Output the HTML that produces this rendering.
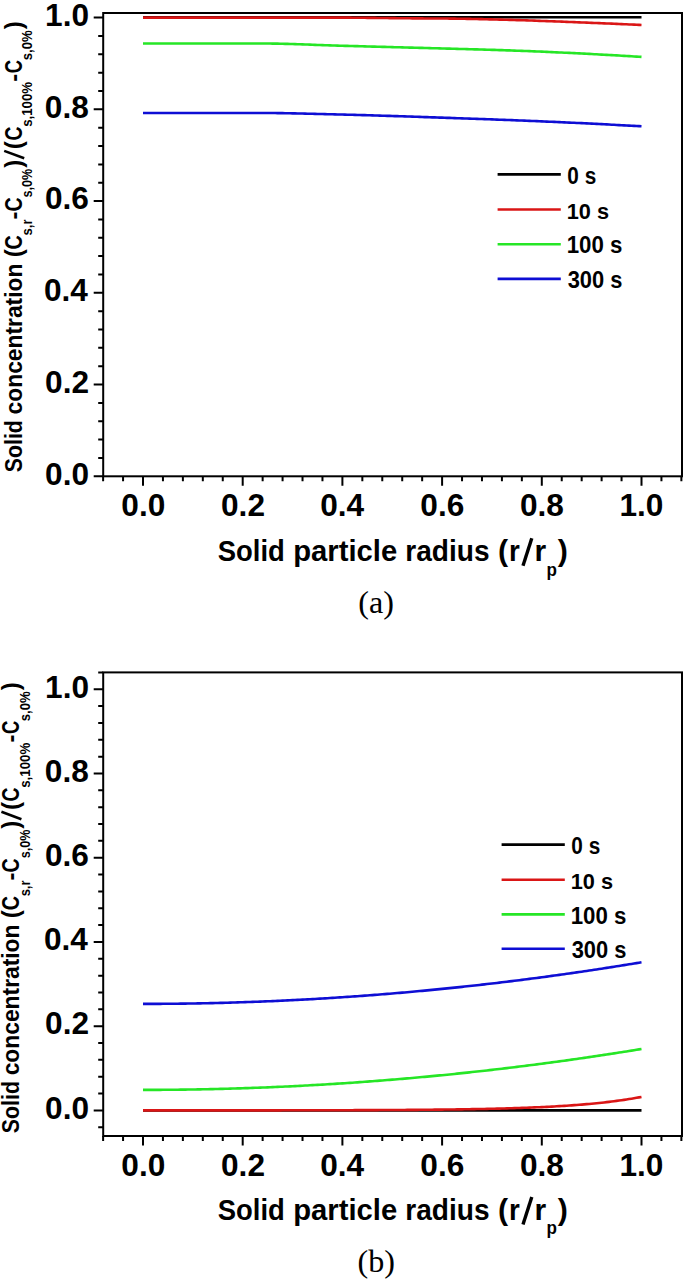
<!DOCTYPE html>
<html><head><meta charset="utf-8"><style>
html,body{margin:0;padding:0;background:#fff;}
svg{display:block;}
</style></head><body>
<svg width="683" height="1280" viewBox="0 0 683 1280">
<rect width="683" height="1280" fill="#fff"/>
<polyline points="143.00,17.20 145.49,17.20 147.99,17.20 150.48,17.20 152.97,17.20 155.46,17.20 157.96,17.20 160.45,17.20 162.94,17.20 165.43,17.20 167.93,17.20 170.42,17.20 172.91,17.20 175.40,17.20 177.90,17.20 180.39,17.20 182.88,17.20 185.37,17.20 187.87,17.20 190.36,17.20 192.85,17.20 195.34,17.20 197.84,17.20 200.33,17.20 202.82,17.20 205.31,17.20 207.81,17.20 210.30,17.20 212.79,17.20 215.28,17.20 217.77,17.20 220.27,17.20 222.76,17.20 225.25,17.20 227.75,17.20 230.24,17.20 232.73,17.20 235.22,17.20 237.72,17.20 240.21,17.20 242.70,17.20 245.19,17.20 247.69,17.20 250.18,17.20 252.67,17.20 255.16,17.20 257.65,17.20 260.15,17.20 262.64,17.20 265.13,17.20 267.62,17.20 270.12,17.20 272.61,17.20 275.10,17.20 277.60,17.20 280.09,17.20 282.58,17.20 285.07,17.20 287.56,17.20 290.06,17.20 292.55,17.20 295.04,17.20 297.53,17.20 300.03,17.20 302.52,17.20 305.01,17.20 307.50,17.20 310.00,17.20 312.49,17.20 314.98,17.20 317.48,17.20 319.97,17.20 322.46,17.20 324.95,17.20 327.44,17.20 329.94,17.20 332.43,17.20 334.92,17.20 337.42,17.20 339.91,17.20 342.40,17.20 344.89,17.20 347.38,17.20 349.88,17.20 352.37,17.20 354.86,17.20 357.36,17.20 359.85,17.20 362.34,17.20 364.83,17.20 367.33,17.20 369.82,17.20 372.31,17.20 374.80,17.20 377.30,17.20 379.79,17.20 382.28,17.20 384.77,17.20 387.26,17.20 389.76,17.20 392.25,17.20 394.74,17.20 397.24,17.20 399.73,17.20 402.22,17.20 404.71,17.20 407.21,17.20 409.70,17.20 412.19,17.20 414.68,17.20 417.18,17.20 419.67,17.20 422.16,17.20 424.65,17.20 427.15,17.20 429.64,17.20 432.13,17.20 434.62,17.20 437.12,17.20 439.61,17.20 442.10,17.20 444.59,17.20 447.08,17.20 449.58,17.20 452.07,17.20 454.56,17.20 457.06,17.20 459.55,17.20 462.04,17.20 464.53,17.20 467.03,17.20 469.52,17.20 472.01,17.20 474.50,17.20 477.00,17.20 479.49,17.20 481.98,17.20 484.47,17.20 486.97,17.20 489.46,17.20 491.95,17.20 494.44,17.20 496.94,17.20 499.43,17.20 501.92,17.20 504.41,17.20 506.90,17.20 509.40,17.20 511.89,17.20 514.38,17.20 516.88,17.20 519.37,17.20 521.86,17.20 524.35,17.20 526.85,17.20 529.34,17.20 531.83,17.20 534.32,17.20 536.82,17.20 539.31,17.20 541.80,17.20 544.29,17.20 546.79,17.20 549.28,17.20 551.77,17.20 554.26,17.20 556.76,17.20 559.25,17.20 561.74,17.20 564.23,17.20 566.72,17.20 569.22,17.20 571.71,17.20 574.20,17.20 576.69,17.20 579.19,17.20 581.68,17.20 584.17,17.20 586.66,17.20 589.16,17.20 591.65,17.20 594.14,17.20 596.63,17.20 599.13,17.20 601.62,17.20 604.11,17.20 606.61,17.20 609.10,17.20 611.59,17.20 614.08,17.20 616.58,17.20 619.07,17.20 621.56,17.20 624.05,17.20 626.54,17.20 629.04,17.20 631.53,17.20 634.02,17.20 636.51,17.20 639.01,17.20 641.50,17.20" fill="none" stroke="#000000" stroke-width="2.6" stroke-linejoin="round"/>
<polyline points="143.00,17.60 145.49,17.60 147.99,17.60 150.48,17.60 152.97,17.60 155.46,17.60 157.96,17.60 160.45,17.60 162.94,17.60 165.43,17.60 167.93,17.60 170.42,17.60 172.91,17.60 175.40,17.60 177.90,17.60 180.39,17.60 182.88,17.60 185.37,17.60 187.87,17.60 190.36,17.60 192.85,17.60 195.34,17.60 197.84,17.60 200.33,17.60 202.82,17.60 205.31,17.60 207.81,17.60 210.30,17.60 212.79,17.60 215.28,17.60 217.77,17.60 220.27,17.60 222.76,17.60 225.25,17.60 227.75,17.60 230.24,17.60 232.73,17.60 235.22,17.60 237.72,17.60 240.21,17.60 242.70,17.60 245.19,17.60 247.69,17.60 250.18,17.60 252.67,17.60 255.16,17.60 257.65,17.60 260.15,17.60 262.64,17.60 265.13,17.60 267.62,17.60 270.12,17.60 272.61,17.60 275.10,17.60 277.60,17.60 280.09,17.60 282.58,17.60 285.07,17.60 287.56,17.60 290.06,17.60 292.55,17.60 295.04,17.60 297.53,17.60 300.03,17.60 302.52,17.60 305.01,17.60 307.50,17.60 310.00,17.60 312.49,17.60 314.98,17.60 317.48,17.60 319.97,17.60 322.46,17.60 324.95,17.60 327.44,17.60 329.94,17.60 332.43,17.60 334.92,17.61 337.42,17.61 339.91,17.62 342.40,17.63 344.89,17.64 347.38,17.66 349.88,17.67 352.37,17.69 354.86,17.71 357.36,17.73 359.85,17.76 362.34,17.78 364.83,17.81 367.33,17.83 369.82,17.86 372.31,17.89 374.80,17.91 377.30,17.94 379.79,17.97 382.28,18.00 384.77,18.03 387.26,18.06 389.76,18.09 392.25,18.12 394.74,18.15 397.24,18.18 399.73,18.21 402.22,18.23 404.71,18.26 407.21,18.29 409.70,18.31 412.19,18.33 414.68,18.36 417.18,18.38 419.67,18.40 422.16,18.42 424.65,18.43 427.15,18.45 429.64,18.46 432.13,18.48 434.62,18.49 437.12,18.50 439.61,18.52 442.10,18.54 444.59,18.55 447.08,18.57 449.58,18.60 452.07,18.62 454.56,18.65 457.06,18.68 459.55,18.72 462.04,18.76 464.53,18.80 467.03,18.85 469.52,18.89 472.01,18.94 474.50,18.99 477.00,19.05 479.49,19.10 481.98,19.16 484.47,19.22 486.97,19.28 489.46,19.34 491.95,19.40 494.44,19.46 496.94,19.52 499.43,19.59 501.92,19.65 504.41,19.71 506.90,19.78 509.40,19.85 511.89,19.92 514.38,20.00 516.88,20.08 519.37,20.16 521.86,20.24 524.35,20.32 526.85,20.40 529.34,20.49 531.83,20.57 534.32,20.66 536.82,20.75 539.31,20.84 541.80,20.93 544.29,21.02 546.79,21.11 549.28,21.20 551.77,21.30 554.26,21.39 556.76,21.48 559.25,21.57 561.74,21.66 564.23,21.76 566.72,21.85 569.22,21.94 571.71,22.04 574.20,22.14 576.69,22.23 579.19,22.33 581.68,22.43 584.17,22.53 586.66,22.63 589.16,22.73 591.65,22.83 594.14,22.93 596.63,23.03 599.13,23.13 601.62,23.24 604.11,23.34 606.61,23.45 609.10,23.55 611.59,23.66 614.08,23.77 616.58,23.88 619.07,23.99 621.56,24.10 624.05,24.21 626.54,24.32 629.04,24.43 631.53,24.54 634.02,24.66 636.51,24.77 639.01,24.88 641.50,25.00" fill="none" stroke="#da1616" stroke-width="2.6" stroke-linejoin="round"/>
<polyline points="143.00,43.50 145.49,43.50 147.99,43.50 150.48,43.50 152.97,43.50 155.46,43.50 157.96,43.50 160.45,43.50 162.94,43.50 165.43,43.50 167.93,43.50 170.42,43.50 172.91,43.50 175.40,43.50 177.90,43.50 180.39,43.50 182.88,43.50 185.37,43.50 187.87,43.50 190.36,43.50 192.85,43.50 195.34,43.50 197.84,43.50 200.33,43.50 202.82,43.50 205.31,43.50 207.81,43.50 210.30,43.50 212.79,43.50 215.28,43.50 217.77,43.50 220.27,43.50 222.76,43.50 225.25,43.50 227.75,43.50 230.24,43.50 232.73,43.50 235.22,43.50 237.72,43.50 240.21,43.50 242.70,43.50 245.19,43.50 247.69,43.50 250.18,43.50 252.67,43.50 255.16,43.50 257.65,43.50 260.15,43.50 262.64,43.50 265.13,43.51 267.62,43.52 270.12,43.55 272.61,43.58 275.10,43.61 277.60,43.66 280.09,43.71 282.58,43.77 285.07,43.83 287.56,43.90 290.06,43.97 292.55,44.05 295.04,44.13 297.53,44.21 300.03,44.30 302.52,44.38 305.01,44.48 307.50,44.57 310.00,44.66 312.49,44.75 314.98,44.85 317.48,44.94 319.97,45.03 322.46,45.13 324.95,45.22 327.44,45.30 329.94,45.39 332.43,45.47 334.92,45.55 337.42,45.63 339.91,45.70 342.40,45.77 344.89,45.83 347.38,45.90 349.88,45.97 352.37,46.04 354.86,46.11 357.36,46.17 359.85,46.24 362.34,46.31 364.83,46.38 367.33,46.44 369.82,46.51 372.31,46.58 374.80,46.64 377.30,46.71 379.79,46.78 382.28,46.84 384.77,46.91 387.26,46.98 389.76,47.04 392.25,47.11 394.74,47.18 397.24,47.24 399.73,47.31 402.22,47.38 404.71,47.44 407.21,47.51 409.70,47.58 412.19,47.64 414.68,47.71 417.18,47.78 419.67,47.84 422.16,47.91 424.65,47.98 427.15,48.05 429.64,48.11 432.13,48.18 434.62,48.25 437.12,48.32 439.61,48.39 442.10,48.46 444.59,48.53 447.08,48.59 449.58,48.66 452.07,48.73 454.56,48.80 457.06,48.86 459.55,48.93 462.04,49.00 464.53,49.06 467.03,49.13 469.52,49.20 472.01,49.27 474.50,49.34 477.00,49.41 479.49,49.48 481.98,49.55 484.47,49.62 486.97,49.70 489.46,49.77 491.95,49.85 494.44,49.92 496.94,50.00 499.43,50.08 501.92,50.16 504.41,50.25 506.90,50.33 509.40,50.42 511.89,50.51 514.38,50.60 516.88,50.69 519.37,50.78 521.86,50.88 524.35,50.97 526.85,51.07 529.34,51.17 531.83,51.27 534.32,51.37 536.82,51.47 539.31,51.57 541.80,51.67 544.29,51.78 546.79,51.89 549.28,51.99 551.77,52.10 554.26,52.22 556.76,52.33 559.25,52.44 561.74,52.56 564.23,52.68 566.72,52.80 569.22,52.92 571.71,53.04 574.20,53.16 576.69,53.28 579.19,53.41 581.68,53.54 584.17,53.66 586.66,53.79 589.16,53.92 591.65,54.05 594.14,54.18 596.63,54.31 599.13,54.45 601.62,54.58 604.11,54.72 606.61,54.86 609.10,54.99 611.59,55.13 614.08,55.27 616.58,55.42 619.07,55.56 621.56,55.70 624.05,55.85 626.54,55.99 629.04,56.14 631.53,56.29 634.02,56.44 636.51,56.59 639.01,56.75 641.50,56.90" fill="none" stroke="#26e626" stroke-width="2.6" stroke-linejoin="round"/>
<polyline points="143.00,113.00 145.49,113.00 147.99,113.00 150.48,113.00 152.97,113.00 155.46,113.00 157.96,113.00 160.45,113.00 162.94,113.00 165.43,113.00 167.93,113.00 170.42,113.00 172.91,113.00 175.40,113.00 177.90,113.00 180.39,113.00 182.88,113.00 185.37,113.00 187.87,113.00 190.36,113.00 192.85,113.00 195.34,113.00 197.84,113.00 200.33,113.00 202.82,113.00 205.31,113.00 207.81,113.00 210.30,113.00 212.79,113.00 215.28,113.00 217.77,113.00 220.27,113.00 222.76,113.00 225.25,113.00 227.75,113.00 230.24,113.00 232.73,113.00 235.22,113.00 237.72,113.00 240.21,113.00 242.70,113.00 245.19,113.00 247.69,113.00 250.18,113.00 252.67,113.00 255.16,113.00 257.65,113.00 260.15,113.00 262.64,113.00 265.13,113.00 267.62,113.01 270.12,113.03 272.61,113.05 275.10,113.07 277.60,113.10 280.09,113.13 282.58,113.16 285.07,113.20 287.56,113.25 290.06,113.29 292.55,113.34 295.04,113.39 297.53,113.44 300.03,113.50 302.52,113.56 305.01,113.62 307.50,113.68 310.00,113.74 312.49,113.80 314.98,113.86 317.48,113.93 319.97,113.99 322.46,114.06 324.95,114.12 327.44,114.19 329.94,114.25 332.43,114.32 334.92,114.38 337.42,114.44 339.91,114.50 342.40,114.56 344.89,114.62 347.38,114.68 349.88,114.74 352.37,114.81 354.86,114.87 357.36,114.94 359.85,115.01 362.34,115.08 364.83,115.15 367.33,115.22 369.82,115.30 372.31,115.37 374.80,115.45 377.30,115.52 379.79,115.60 382.28,115.68 384.77,115.75 387.26,115.83 389.76,115.91 392.25,115.99 394.74,116.08 397.24,116.16 399.73,116.24 402.22,116.32 404.71,116.40 407.21,116.49 409.70,116.57 412.19,116.66 414.68,116.74 417.18,116.82 419.67,116.91 422.16,116.99 424.65,117.08 427.15,117.16 429.64,117.25 432.13,117.33 434.62,117.42 437.12,117.50 439.61,117.59 442.10,117.67 444.59,117.76 447.08,117.84 449.58,117.92 452.07,118.01 454.56,118.09 457.06,118.18 459.55,118.27 462.04,118.35 464.53,118.44 467.03,118.53 469.52,118.61 472.01,118.70 474.50,118.79 477.00,118.88 479.49,118.96 481.98,119.05 484.47,119.14 486.97,119.23 489.46,119.32 491.95,119.41 494.44,119.51 496.94,119.60 499.43,119.69 501.92,119.78 504.41,119.88 506.90,119.97 509.40,120.07 511.89,120.16 514.38,120.26 516.88,120.35 519.37,120.45 521.86,120.55 524.35,120.65 526.85,120.75 529.34,120.85 531.83,120.95 534.32,121.05 536.82,121.16 539.31,121.26 541.80,121.36 544.29,121.47 546.79,121.58 549.28,121.68 551.77,121.79 554.26,121.90 556.76,122.01 559.25,122.12 561.74,122.24 564.23,122.35 566.72,122.46 569.22,122.58 571.71,122.70 574.20,122.81 576.69,122.93 579.19,123.05 581.68,123.17 584.17,123.29 586.66,123.41 589.16,123.54 591.65,123.66 594.14,123.79 596.63,123.91 599.13,124.04 601.62,124.16 604.11,124.29 606.61,124.42 609.10,124.55 611.59,124.68 614.08,124.81 616.58,124.94 619.07,125.08 621.56,125.21 624.05,125.34 626.54,125.48 629.04,125.61 631.53,125.75 634.02,125.89 636.51,126.02 639.01,126.16 641.50,126.30" fill="none" stroke="#0e0ed4" stroke-width="2.6" stroke-linejoin="round"/>
<rect x="103.2" y="13.0" width="578.80" height="463.30" fill="none" stroke="#000" stroke-width="2"/>
<path d="M103.12 476.30v5.0 M123.06 476.30v5.0 M143.00 476.30v9.5 M162.94 476.30v5.0 M182.88 476.30v5.0 M202.82 476.30v5.0 M222.76 476.30v5.0 M242.70 476.30v9.5 M262.64 476.30v5.0 M282.58 476.30v5.0 M302.52 476.30v5.0 M322.46 476.30v5.0 M342.40 476.30v9.5 M362.34 476.30v5.0 M382.28 476.30v5.0 M402.22 476.30v5.0 M422.16 476.30v5.0 M442.10 476.30v9.5 M462.04 476.30v5.0 M481.98 476.30v5.0 M501.92 476.30v5.0 M521.86 476.30v5.0 M541.80 476.30v9.5 M561.74 476.30v5.0 M581.68 476.30v5.0 M601.62 476.30v5.0 M621.56 476.30v5.0 M641.50 476.30v9.5 M661.44 476.30v5.0 M681.38 476.30v5.0 M103.20 476.30h-9.5 M103.20 457.95h-5.0 M103.20 439.60h-5.0 M103.20 421.26h-5.0 M103.20 402.91h-5.0 M103.20 384.56h-9.5 M103.20 366.21h-5.0 M103.20 347.86h-5.0 M103.20 329.52h-5.0 M103.20 311.17h-5.0 M103.20 292.82h-9.5 M103.20 274.47h-5.0 M103.20 256.12h-5.0 M103.20 237.78h-5.0 M103.20 219.43h-5.0 M103.20 201.08h-9.5 M103.20 182.73h-5.0 M103.20 164.38h-5.0 M103.20 146.04h-5.0 M103.20 127.69h-5.0 M103.20 109.34h-9.5 M103.20 90.99h-5.0 M103.20 72.64h-5.0 M103.20 54.30h-5.0 M103.20 35.95h-5.0 M103.20 17.60h-9.5" stroke="#000" stroke-width="2" fill="none"/>
<text transform="translate(45.11,484.60) scale(1.0200,1)" font-family='"Liberation Sans", sans-serif' font-weight="bold" font-size="31" fill="#000">0.0</text>
<text transform="translate(45.11,392.86) scale(1.0200,1)" font-family='"Liberation Sans", sans-serif' font-weight="bold" font-size="31" fill="#000">0.2</text>
<text transform="translate(44.01,301.12) scale(1.0200,1)" font-family='"Liberation Sans", sans-serif' font-weight="bold" font-size="31" fill="#000">0.4</text>
<text transform="translate(44.95,209.38) scale(1.0200,1)" font-family='"Liberation Sans", sans-serif' font-weight="bold" font-size="31" fill="#000">0.6</text>
<text transform="translate(44.80,117.64) scale(1.0200,1)" font-family='"Liberation Sans", sans-serif' font-weight="bold" font-size="31" fill="#000">0.8</text>
<text transform="translate(45.11,25.90) scale(1.0200,1)" font-family='"Liberation Sans", sans-serif' font-weight="bold" font-size="31" fill="#000">1.0</text>
<text transform="translate(121.32,516.20) scale(1.0200,1)" font-family='"Liberation Sans", sans-serif' font-weight="bold" font-size="31" fill="#000">0.0</text>
<text transform="translate(221.02,516.20) scale(1.0200,1)" font-family='"Liberation Sans", sans-serif' font-weight="bold" font-size="31" fill="#000">0.2</text>
<text transform="translate(320.17,516.20) scale(1.0200,1)" font-family='"Liberation Sans", sans-serif' font-weight="bold" font-size="31" fill="#000">0.4</text>
<text transform="translate(420.35,516.20) scale(1.0200,1)" font-family='"Liberation Sans", sans-serif' font-weight="bold" font-size="31" fill="#000">0.6</text>
<text transform="translate(519.97,516.20) scale(1.0200,1)" font-family='"Liberation Sans", sans-serif' font-weight="bold" font-size="31" fill="#000">0.8</text>
<text transform="translate(619.43,516.20) scale(1.0200,1)" font-family='"Liberation Sans", sans-serif' font-weight="bold" font-size="31" fill="#000">1.0</text>
<text transform="translate(217.78,560.90) scale(0.9058,1)" font-family='"Liberation Sans", sans-serif' font-weight="bold" font-size="30.3" fill="#000">Solid</text>
<text transform="translate(293.20,560.90) scale(0.9657,1)" font-family='"Liberation Sans", sans-serif' font-weight="bold" font-size="30.3" fill="#000">particle</text>
<text transform="translate(405.27,560.90) scale(0.9268,1)" font-family='"Liberation Sans", sans-serif' font-weight="bold" font-size="30.3" fill="#000">radius</text>
<text transform="translate(497.99,560.90) scale(1.0000,1)" font-family='"Liberation Sans", sans-serif' font-weight="bold" font-size="30.3" fill="#000">(</text>
<text transform="translate(509.00,560.90) scale(0.9156,1)" font-family='"Liberation Sans", sans-serif' font-weight="bold" font-size="30.3" fill="#000">r</text>
<line x1="523.0" y1="565.80" x2="531.8" y2="538.30" stroke="#000" stroke-width="3.4"/>
<text transform="translate(534.45,560.90) scale(0.9901,1)" font-family='"Liberation Sans", sans-serif' font-weight="bold" font-size="30.3" fill="#000">r</text>
<text transform="translate(546.49,575.50) scale(0.9731,1)" font-family='"Liberation Sans", sans-serif' font-weight="bold" font-size="17.5" fill="#000">p</text>
<text transform="translate(557.76,560.90) scale(1.0000,1)" font-family='"Liberation Sans", sans-serif' font-weight="bold" font-size="30.3" fill="#000">)</text>
<text transform="translate(358.35,613.30) scale(1.0373,1)" font-family='"Liberation Serif", serif' font-weight="normal" font-size="31" fill="#000">(a)</text>
<line x1="497.6" y1="174.4" x2="560.8" y2="174.4" stroke="#000000" stroke-width="2.6"/>
<text transform="translate(567.37,183.60) scale(0.9028,1)" font-family='"Liberation Sans", sans-serif' font-weight="bold" font-size="23.0" fill="#000">0 s</text>
<line x1="497.6" y1="209.5" x2="560.8" y2="209.5" stroke="#da1616" stroke-width="2.6"/>
<text transform="translate(566.79,218.70) scale(0.9452,1)" font-family='"Liberation Sans", sans-serif' font-weight="bold" font-size="23.0" fill="#000">10 s</text>
<line x1="497.6" y1="244.2" x2="560.8" y2="244.2" stroke="#26e626" stroke-width="2.6"/>
<text transform="translate(566.75,253.40) scale(0.9676,1)" font-family='"Liberation Sans", sans-serif' font-weight="bold" font-size="23.0" fill="#000">100 s</text>
<line x1="497.6" y1="278.9" x2="560.8" y2="278.9" stroke="#0e0ed4" stroke-width="2.6"/>
<text transform="translate(567.65,288.10) scale(0.9517,1)" font-family='"Liberation Sans", sans-serif' font-weight="bold" font-size="23.0" fill="#000">300 s</text>
<g transform="translate(21.6,471.9) rotate(-90)"><text transform="translate(-0.34,0.00) scale(0.8958,1)" font-family='"Liberation Sans", sans-serif' font-weight="bold" font-size="23.8" fill="#000">Solid</text><text transform="translate(57.49,0.00) scale(0.9591,1)" font-family='"Liberation Sans", sans-serif' font-weight="bold" font-size="23.8" fill="#000">concentration</text><text transform="translate(214.58,0.00) scale(1.0000,1)" font-family='"Liberation Sans", sans-serif' font-weight="bold" font-size="23.8" fill="#000">(</text><text transform="translate(222.51,0.00) scale(0.8339,1)" font-family='"Liberation Sans", sans-serif' font-weight="bold" font-size="23.8" fill="#000">C</text><text transform="translate(236.44,10.80) scale(0.8980,1)" font-family='"Liberation Sans", sans-serif' font-weight="bold" font-size="14.5" fill="#000">s,r</text><text transform="translate(252.41,0.00) scale(1.0000,1)" font-family='"Liberation Sans", sans-serif' font-weight="bold" font-size="23.8" fill="#000">-</text><text transform="translate(260.32,0.00) scale(0.8211,1)" font-family='"Liberation Sans", sans-serif' font-weight="bold" font-size="23.8" fill="#000">C</text><text transform="translate(274.46,10.80) scale(0.8698,1)" font-family='"Liberation Sans", sans-serif' font-weight="bold" font-size="14.5" fill="#000">s,0%</text><text transform="translate(304.05,0.00) scale(1.0000,1)" font-family='"Liberation Sans", sans-serif' font-weight="bold" font-size="23.8" fill="#000">)</text><line x1="313.6" y1="2.6" x2="321.0" y2="-17.4" stroke="#000" stroke-width="2.6"/><text transform="translate(322.68,0.00) scale(1.0000,1)" font-family='"Liberation Sans", sans-serif' font-weight="bold" font-size="23.8" fill="#000">(</text><text transform="translate(331.32,0.00) scale(0.8147,1)" font-family='"Liberation Sans", sans-serif' font-weight="bold" font-size="23.8" fill="#000">C</text><text transform="translate(345.04,10.80) scale(0.9161,1)" font-family='"Liberation Sans", sans-serif' font-weight="bold" font-size="14.5" fill="#000">s,100%</text><text transform="translate(390.21,0.00) scale(1.0000,1)" font-family='"Liberation Sans", sans-serif' font-weight="bold" font-size="23.8" fill="#000">-</text><text transform="translate(398.76,0.00) scale(0.7762,1)" font-family='"Liberation Sans", sans-serif' font-weight="bold" font-size="23.8" fill="#000">C</text><text transform="translate(411.64,10.80) scale(0.9009,1)" font-family='"Liberation Sans", sans-serif' font-weight="bold" font-size="14.5" fill="#000">s,0%</text><text transform="translate(442.55,0.00) scale(1.0000,1)" font-family='"Liberation Sans", sans-serif' font-weight="bold" font-size="23.8" fill="#000">)</text></g>
<polyline points="143.00,1110.40 145.49,1110.40 147.99,1110.40 150.48,1110.40 152.97,1110.40 155.46,1110.40 157.96,1110.40 160.45,1110.40 162.94,1110.40 165.43,1110.40 167.93,1110.40 170.42,1110.40 172.91,1110.40 175.40,1110.40 177.90,1110.40 180.39,1110.40 182.88,1110.40 185.37,1110.40 187.87,1110.40 190.36,1110.40 192.85,1110.40 195.34,1110.40 197.84,1110.40 200.33,1110.40 202.82,1110.40 205.31,1110.40 207.81,1110.40 210.30,1110.40 212.79,1110.40 215.28,1110.40 217.77,1110.40 220.27,1110.40 222.76,1110.40 225.25,1110.40 227.75,1110.40 230.24,1110.40 232.73,1110.40 235.22,1110.40 237.72,1110.40 240.21,1110.40 242.70,1110.40 245.19,1110.40 247.69,1110.40 250.18,1110.40 252.67,1110.40 255.16,1110.40 257.65,1110.40 260.15,1110.40 262.64,1110.40 265.13,1110.40 267.62,1110.40 270.12,1110.40 272.61,1110.40 275.10,1110.40 277.60,1110.40 280.09,1110.40 282.58,1110.40 285.07,1110.40 287.56,1110.40 290.06,1110.40 292.55,1110.40 295.04,1110.40 297.53,1110.40 300.03,1110.40 302.52,1110.40 305.01,1110.40 307.50,1110.40 310.00,1110.40 312.49,1110.40 314.98,1110.40 317.48,1110.40 319.97,1110.40 322.46,1110.40 324.95,1110.40 327.44,1110.40 329.94,1110.40 332.43,1110.40 334.92,1110.40 337.42,1110.40 339.91,1110.40 342.40,1110.40 344.89,1110.40 347.38,1110.40 349.88,1110.40 352.37,1110.40 354.86,1110.40 357.36,1110.40 359.85,1110.40 362.34,1110.40 364.83,1110.40 367.33,1110.40 369.82,1110.40 372.31,1110.40 374.80,1110.40 377.30,1110.40 379.79,1110.40 382.28,1110.40 384.77,1110.40 387.26,1110.40 389.76,1110.40 392.25,1110.40 394.74,1110.40 397.24,1110.40 399.73,1110.40 402.22,1110.40 404.71,1110.40 407.21,1110.40 409.70,1110.40 412.19,1110.40 414.68,1110.40 417.18,1110.40 419.67,1110.40 422.16,1110.40 424.65,1110.40 427.15,1110.40 429.64,1110.40 432.13,1110.40 434.62,1110.40 437.12,1110.40 439.61,1110.40 442.10,1110.40 444.59,1110.40 447.08,1110.40 449.58,1110.40 452.07,1110.40 454.56,1110.40 457.06,1110.40 459.55,1110.40 462.04,1110.40 464.53,1110.40 467.03,1110.40 469.52,1110.40 472.01,1110.40 474.50,1110.40 477.00,1110.40 479.49,1110.40 481.98,1110.40 484.47,1110.40 486.97,1110.40 489.46,1110.40 491.95,1110.40 494.44,1110.40 496.94,1110.40 499.43,1110.40 501.92,1110.40 504.41,1110.40 506.90,1110.40 509.40,1110.40 511.89,1110.40 514.38,1110.40 516.88,1110.40 519.37,1110.40 521.86,1110.40 524.35,1110.40 526.85,1110.40 529.34,1110.40 531.83,1110.40 534.32,1110.40 536.82,1110.40 539.31,1110.40 541.80,1110.40 544.29,1110.40 546.79,1110.40 549.28,1110.40 551.77,1110.40 554.26,1110.40 556.76,1110.40 559.25,1110.40 561.74,1110.40 564.23,1110.40 566.72,1110.40 569.22,1110.40 571.71,1110.40 574.20,1110.40 576.69,1110.40 579.19,1110.40 581.68,1110.40 584.17,1110.40 586.66,1110.40 589.16,1110.40 591.65,1110.40 594.14,1110.40 596.63,1110.40 599.13,1110.40 601.62,1110.40 604.11,1110.40 606.61,1110.40 609.10,1110.40 611.59,1110.40 614.08,1110.40 616.58,1110.40 619.07,1110.40 621.56,1110.40 624.05,1110.40 626.54,1110.40 629.04,1110.40 631.53,1110.40 634.02,1110.40 636.51,1110.40 639.01,1110.40 641.50,1110.40" fill="none" stroke="#000000" stroke-width="2.6" stroke-linejoin="round"/>
<polyline points="143.00,1110.40 145.49,1110.40 147.99,1110.40 150.48,1110.40 152.97,1110.40 155.46,1110.40 157.96,1110.40 160.45,1110.40 162.94,1110.40 165.43,1110.40 167.93,1110.39 170.42,1110.39 172.91,1110.39 175.40,1110.39 177.90,1110.39 180.39,1110.39 182.88,1110.39 185.37,1110.39 187.87,1110.39 190.36,1110.39 192.85,1110.39 195.34,1110.39 197.84,1110.39 200.33,1110.38 202.82,1110.38 205.31,1110.38 207.81,1110.38 210.30,1110.38 212.79,1110.38 215.28,1110.38 217.77,1110.38 220.27,1110.38 222.76,1110.37 225.25,1110.37 227.75,1110.37 230.24,1110.37 232.73,1110.37 235.22,1110.37 237.72,1110.37 240.21,1110.36 242.70,1110.36 245.19,1110.36 247.69,1110.36 250.18,1110.36 252.67,1110.35 255.16,1110.35 257.65,1110.35 260.15,1110.35 262.64,1110.35 265.13,1110.34 267.62,1110.34 270.12,1110.34 272.61,1110.34 275.10,1110.33 277.60,1110.33 280.09,1110.33 282.58,1110.32 285.07,1110.32 287.56,1110.32 290.06,1110.32 292.55,1110.31 295.04,1110.31 297.53,1110.30 300.03,1110.30 302.52,1110.30 305.01,1110.29 307.50,1110.29 310.00,1110.28 312.49,1110.28 314.98,1110.27 317.48,1110.27 319.97,1110.26 322.46,1110.26 324.95,1110.25 327.44,1110.25 329.94,1110.24 332.43,1110.24 334.92,1110.23 337.42,1110.22 339.91,1110.22 342.40,1110.21 344.89,1110.20 347.38,1110.20 349.88,1110.19 352.37,1110.18 354.86,1110.17 357.36,1110.16 359.85,1110.15 362.34,1110.14 364.83,1110.14 367.33,1110.13 369.82,1110.12 372.31,1110.10 374.80,1110.09 377.30,1110.08 379.79,1110.07 382.28,1110.06 384.77,1110.05 387.26,1110.03 389.76,1110.02 392.25,1110.00 394.74,1109.99 397.24,1109.98 399.73,1109.96 402.22,1109.94 404.71,1109.93 407.21,1109.91 409.70,1109.89 412.19,1109.87 414.68,1109.85 417.18,1109.83 419.67,1109.81 422.16,1109.79 424.65,1109.77 427.15,1109.75 429.64,1109.72 432.13,1109.70 434.62,1109.67 437.12,1109.65 439.61,1109.62 442.10,1109.59 444.59,1109.56 447.08,1109.53 449.58,1109.50 452.07,1109.47 454.56,1109.44 457.06,1109.40 459.55,1109.36 462.04,1109.33 464.53,1109.29 467.03,1109.25 469.52,1109.21 472.01,1109.16 474.50,1109.12 477.00,1109.07 479.49,1109.03 481.98,1108.98 484.47,1108.93 486.97,1108.87 489.46,1108.82 491.95,1108.76 494.44,1108.70 496.94,1108.64 499.43,1108.58 501.92,1108.51 504.41,1108.44 506.90,1108.37 509.40,1108.30 511.89,1108.23 514.38,1108.15 516.88,1108.07 519.37,1107.98 521.86,1107.90 524.35,1107.81 526.85,1107.72 529.34,1107.62 531.83,1107.52 534.32,1107.42 536.82,1107.31 539.31,1107.20 541.80,1107.09 544.29,1106.97 546.79,1106.84 549.28,1106.72 551.77,1106.59 554.26,1106.45 556.76,1106.31 559.25,1106.16 561.74,1106.01 564.23,1105.85 566.72,1105.69 569.22,1105.52 571.71,1105.35 574.20,1105.17 576.69,1104.98 579.19,1104.79 581.68,1104.59 584.17,1104.38 586.66,1104.17 589.16,1103.94 591.65,1103.71 594.14,1103.48 596.63,1103.23 599.13,1102.97 601.62,1102.71 604.11,1102.43 606.61,1102.15 609.10,1101.85 611.59,1101.55 614.08,1101.23 616.58,1100.91 619.07,1100.57 621.56,1100.22 624.05,1099.85 626.54,1099.48 629.04,1099.09 631.53,1098.69 634.02,1098.27 636.51,1097.84 639.01,1097.39 641.50,1096.92" fill="none" stroke="#da1616" stroke-width="2.6" stroke-linejoin="round"/>
<polyline points="143.00,1089.89 145.49,1089.89 147.99,1089.89 150.48,1089.88 152.97,1089.87 155.46,1089.86 157.96,1089.85 160.45,1089.84 162.94,1089.82 165.43,1089.81 167.93,1089.79 170.42,1089.77 172.91,1089.74 175.40,1089.72 177.90,1089.69 180.39,1089.66 182.88,1089.63 185.37,1089.59 187.87,1089.56 190.36,1089.52 192.85,1089.48 195.34,1089.44 197.84,1089.40 200.33,1089.35 202.82,1089.30 205.31,1089.25 207.81,1089.20 210.30,1089.14 212.79,1089.09 215.28,1089.03 217.77,1088.97 220.27,1088.91 222.76,1088.84 225.25,1088.78 227.75,1088.71 230.24,1088.64 232.73,1088.57 235.22,1088.49 237.72,1088.41 240.21,1088.34 242.70,1088.25 245.19,1088.17 247.69,1088.09 250.18,1088.00 252.67,1087.91 255.16,1087.82 257.65,1087.73 260.15,1087.63 262.64,1087.53 265.13,1087.44 267.62,1087.33 270.12,1087.23 272.61,1087.13 275.10,1087.02 277.60,1086.91 280.09,1086.80 282.58,1086.68 285.07,1086.57 287.56,1086.45 290.06,1086.33 292.55,1086.21 295.04,1086.09 297.53,1085.96 300.03,1085.83 302.52,1085.70 305.01,1085.57 307.50,1085.44 310.00,1085.30 312.49,1085.16 314.98,1085.02 317.48,1084.88 319.97,1084.74 322.46,1084.59 324.95,1084.44 327.44,1084.29 329.94,1084.14 332.43,1083.98 334.92,1083.83 337.42,1083.67 339.91,1083.51 342.40,1083.35 344.89,1083.18 347.38,1083.02 349.88,1082.85 352.37,1082.68 354.86,1082.50 357.36,1082.33 359.85,1082.15 362.34,1081.97 364.83,1081.79 367.33,1081.61 369.82,1081.42 372.31,1081.24 374.80,1081.05 377.30,1080.86 379.79,1080.66 382.28,1080.47 384.77,1080.27 387.26,1080.07 389.76,1079.87 392.25,1079.67 394.74,1079.46 397.24,1079.25 399.73,1079.04 402.22,1078.83 404.71,1078.62 407.21,1078.40 409.70,1078.19 412.19,1077.97 414.68,1077.74 417.18,1077.52 419.67,1077.29 422.16,1077.07 424.65,1076.84 427.15,1076.60 429.64,1076.37 432.13,1076.13 434.62,1075.90 437.12,1075.65 439.61,1075.41 442.10,1075.17 444.59,1074.92 447.08,1074.67 449.58,1074.42 452.07,1074.17 454.56,1073.92 457.06,1073.66 459.55,1073.40 462.04,1073.14 464.53,1072.88 467.03,1072.61 469.52,1072.35 472.01,1072.08 474.50,1071.81 477.00,1071.53 479.49,1071.26 481.98,1070.98 484.47,1070.70 486.97,1070.42 489.46,1070.14 491.95,1069.85 494.44,1069.56 496.94,1069.28 499.43,1068.98 501.92,1068.69 504.41,1068.40 506.90,1068.10 509.40,1067.80 511.89,1067.50 514.38,1067.19 516.88,1066.89 519.37,1066.58 521.86,1066.27 524.35,1065.96 526.85,1065.64 529.34,1065.33 531.83,1065.01 534.32,1064.69 536.82,1064.37 539.31,1064.04 541.80,1063.72 544.29,1063.39 546.79,1063.06 549.28,1062.73 551.77,1062.39 554.26,1062.06 556.76,1061.72 559.25,1061.38 561.74,1061.04 564.23,1060.69 566.72,1060.34 569.22,1060.00 571.71,1059.65 574.20,1059.29 576.69,1058.94 579.19,1058.58 581.68,1058.22 584.17,1057.86 586.66,1057.50 589.16,1057.13 591.65,1056.77 594.14,1056.40 596.63,1056.03 599.13,1055.65 601.62,1055.28 604.11,1054.90 606.61,1054.52 609.10,1054.14 611.59,1053.76 614.08,1053.37 616.58,1052.98 619.07,1052.59 621.56,1052.20 624.05,1051.81 626.54,1051.41 629.04,1051.02 631.53,1050.62 634.02,1050.21 636.51,1049.81 639.01,1049.40 641.50,1049.00" fill="none" stroke="#26e626" stroke-width="2.6" stroke-linejoin="round"/>
<polyline points="143.00,1003.89 145.49,1003.89 147.99,1003.89 150.48,1003.88 152.97,1003.87 155.46,1003.87 157.96,1003.85 160.45,1003.84 162.94,1003.82 165.43,1003.81 167.93,1003.79 170.42,1003.77 172.91,1003.74 175.40,1003.72 177.90,1003.69 180.39,1003.66 182.88,1003.62 185.37,1003.59 187.87,1003.55 190.36,1003.52 192.85,1003.48 195.34,1003.43 197.84,1003.39 200.33,1003.34 202.82,1003.29 205.31,1003.24 207.81,1003.19 210.30,1003.13 212.79,1003.08 215.28,1003.02 217.77,1002.95 220.27,1002.89 222.76,1002.83 225.25,1002.76 227.75,1002.69 230.24,1002.62 232.73,1002.54 235.22,1002.47 237.72,1002.39 240.21,1002.31 242.70,1002.23 245.19,1002.14 247.69,1002.06 250.18,1001.97 252.67,1001.88 255.16,1001.78 257.65,1001.69 260.15,1001.59 262.64,1001.49 265.13,1001.39 267.62,1001.29 270.12,1001.19 272.61,1001.08 275.10,1000.97 277.60,1000.86 280.09,1000.74 282.58,1000.63 285.07,1000.51 287.56,1000.39 290.06,1000.27 292.55,1000.15 295.04,1000.02 297.53,999.89 300.03,999.76 302.52,999.63 305.01,999.50 307.50,999.36 310.00,999.22 312.49,999.08 314.98,998.94 317.48,998.79 319.97,998.65 322.46,998.50 324.95,998.35 327.44,998.19 329.94,998.04 332.43,997.88 334.92,997.72 337.42,997.56 339.91,997.40 342.40,997.23 344.89,997.07 347.38,996.90 349.88,996.72 352.37,996.55 354.86,996.38 357.36,996.20 359.85,996.02 362.34,995.84 364.83,995.65 367.33,995.47 369.82,995.28 372.31,995.09 374.80,994.89 377.30,994.70 379.79,994.50 382.28,994.30 384.77,994.10 387.26,993.90 389.76,993.70 392.25,993.49 394.74,993.28 397.24,993.07 399.73,992.86 402.22,992.64 404.71,992.42 407.21,992.20 409.70,991.98 412.19,991.76 414.68,991.53 417.18,991.30 419.67,991.07 422.16,990.84 424.65,990.61 427.15,990.37 429.64,990.13 432.13,989.89 434.62,989.65 437.12,989.41 439.61,989.16 442.10,988.91 444.59,988.66 447.08,988.41 449.58,988.15 452.07,987.90 454.56,987.64 457.06,987.38 459.55,987.11 462.04,986.85 464.53,986.58 467.03,986.31 469.52,986.04 472.01,985.77 474.50,985.49 477.00,985.21 479.49,984.93 481.98,984.65 484.47,984.37 486.97,984.08 489.46,983.79 491.95,983.50 494.44,983.21 496.94,982.92 499.43,982.62 501.92,982.32 504.41,982.02 506.90,981.72 509.40,981.41 511.89,981.11 514.38,980.80 516.88,980.49 519.37,980.17 521.86,979.86 524.35,979.54 526.85,979.22 529.34,978.90 531.83,978.58 534.32,978.25 536.82,977.92 539.31,977.59 541.80,977.26 544.29,976.93 546.79,976.59 549.28,976.25 551.77,975.91 554.26,975.57 556.76,975.23 559.25,974.88 561.74,974.53 564.23,974.18 566.72,973.83 569.22,973.47 571.71,973.12 574.20,972.76 576.69,972.40 579.19,972.03 581.68,971.67 584.17,971.30 586.66,970.93 589.16,970.56 591.65,970.19 594.14,969.81 596.63,969.43 599.13,969.05 601.62,968.67 604.11,968.29 606.61,967.90 609.10,967.51 611.59,967.12 614.08,966.73 616.58,966.34 619.07,965.94 621.56,965.54 624.05,965.14 626.54,964.74 629.04,964.34 631.53,963.93 634.02,963.52 636.51,963.11 639.01,962.70 641.50,962.28" fill="none" stroke="#0e0ed4" stroke-width="2.6" stroke-linejoin="round"/>
<rect x="103.2" y="672.4" width="578.80" height="463.60" fill="none" stroke="#000" stroke-width="2"/>
<path d="M103.12 1136.00v5.0 M123.06 1136.00v5.0 M143.00 1136.00v9.5 M162.94 1136.00v5.0 M182.88 1136.00v5.0 M202.82 1136.00v5.0 M222.76 1136.00v5.0 M242.70 1136.00v9.5 M262.64 1136.00v5.0 M282.58 1136.00v5.0 M302.52 1136.00v5.0 M322.46 1136.00v5.0 M342.40 1136.00v9.5 M362.34 1136.00v5.0 M382.28 1136.00v5.0 M402.22 1136.00v5.0 M422.16 1136.00v5.0 M442.10 1136.00v9.5 M462.04 1136.00v5.0 M481.98 1136.00v5.0 M501.92 1136.00v5.0 M521.86 1136.00v5.0 M541.80 1136.00v9.5 M561.74 1136.00v5.0 M581.68 1136.00v5.0 M601.62 1136.00v5.0 M621.56 1136.00v5.0 M641.50 1136.00v9.5 M661.44 1136.00v5.0 M681.38 1136.00v5.0 M103.20 1127.25h-5.0 M103.20 1110.40h-9.5 M103.20 1093.55h-5.0 M103.20 1076.71h-5.0 M103.20 1059.86h-5.0 M103.20 1043.02h-5.0 M103.20 1026.17h-9.5 M103.20 1009.32h-5.0 M103.20 992.48h-5.0 M103.20 975.63h-5.0 M103.20 958.79h-5.0 M103.20 941.94h-9.5 M103.20 925.09h-5.0 M103.20 908.25h-5.0 M103.20 891.40h-5.0 M103.20 874.56h-5.0 M103.20 857.71h-9.5 M103.20 840.86h-5.0 M103.20 824.02h-5.0 M103.20 807.17h-5.0 M103.20 790.33h-5.0 M103.20 773.48h-9.5 M103.20 756.63h-5.0 M103.20 739.79h-5.0 M103.20 722.94h-5.0 M103.20 706.10h-5.0 M103.20 689.25h-9.5 M103.20 672.40h-5.0" stroke="#000" stroke-width="2" fill="none"/>
<text transform="translate(45.11,1118.70) scale(1.0200,1)" font-family='"Liberation Sans", sans-serif' font-weight="bold" font-size="31" fill="#000">0.0</text>
<text transform="translate(45.11,1034.47) scale(1.0200,1)" font-family='"Liberation Sans", sans-serif' font-weight="bold" font-size="31" fill="#000">0.2</text>
<text transform="translate(44.01,950.24) scale(1.0200,1)" font-family='"Liberation Sans", sans-serif' font-weight="bold" font-size="31" fill="#000">0.4</text>
<text transform="translate(44.95,866.01) scale(1.0200,1)" font-family='"Liberation Sans", sans-serif' font-weight="bold" font-size="31" fill="#000">0.6</text>
<text transform="translate(44.80,781.78) scale(1.0200,1)" font-family='"Liberation Sans", sans-serif' font-weight="bold" font-size="31" fill="#000">0.8</text>
<text transform="translate(45.11,697.55) scale(1.0200,1)" font-family='"Liberation Sans", sans-serif' font-weight="bold" font-size="31" fill="#000">1.0</text>
<text transform="translate(121.32,1175.80) scale(1.0200,1)" font-family='"Liberation Sans", sans-serif' font-weight="bold" font-size="31" fill="#000">0.0</text>
<text transform="translate(221.02,1175.80) scale(1.0200,1)" font-family='"Liberation Sans", sans-serif' font-weight="bold" font-size="31" fill="#000">0.2</text>
<text transform="translate(320.17,1175.80) scale(1.0200,1)" font-family='"Liberation Sans", sans-serif' font-weight="bold" font-size="31" fill="#000">0.4</text>
<text transform="translate(420.35,1175.80) scale(1.0200,1)" font-family='"Liberation Sans", sans-serif' font-weight="bold" font-size="31" fill="#000">0.6</text>
<text transform="translate(519.97,1175.80) scale(1.0200,1)" font-family='"Liberation Sans", sans-serif' font-weight="bold" font-size="31" fill="#000">0.8</text>
<text transform="translate(619.43,1175.80) scale(1.0200,1)" font-family='"Liberation Sans", sans-serif' font-weight="bold" font-size="31" fill="#000">1.0</text>
<text transform="translate(217.78,1219.60) scale(0.9058,1)" font-family='"Liberation Sans", sans-serif' font-weight="bold" font-size="30.3" fill="#000">Solid</text>
<text transform="translate(293.20,1219.60) scale(0.9657,1)" font-family='"Liberation Sans", sans-serif' font-weight="bold" font-size="30.3" fill="#000">particle</text>
<text transform="translate(405.27,1219.60) scale(0.9268,1)" font-family='"Liberation Sans", sans-serif' font-weight="bold" font-size="30.3" fill="#000">radius</text>
<text transform="translate(497.99,1219.60) scale(1.0000,1)" font-family='"Liberation Sans", sans-serif' font-weight="bold" font-size="30.3" fill="#000">(</text>
<text transform="translate(509.00,1219.60) scale(0.9156,1)" font-family='"Liberation Sans", sans-serif' font-weight="bold" font-size="30.3" fill="#000">r</text>
<line x1="523.0" y1="1224.50" x2="531.8" y2="1197.00" stroke="#000" stroke-width="3.4"/>
<text transform="translate(534.45,1219.60) scale(0.9901,1)" font-family='"Liberation Sans", sans-serif' font-weight="bold" font-size="30.3" fill="#000">r</text>
<text transform="translate(546.49,1234.20) scale(0.9731,1)" font-family='"Liberation Sans", sans-serif' font-weight="bold" font-size="17.5" fill="#000">p</text>
<text transform="translate(557.76,1219.60) scale(1.0000,1)" font-family='"Liberation Sans", sans-serif' font-weight="bold" font-size="30.3" fill="#000">)</text>
<text transform="translate(357.45,1272.30) scale(1.0364,1)" font-family='"Liberation Serif", serif' font-weight="normal" font-size="31" fill="#000">(b)</text>
<line x1="501.6" y1="844.6" x2="564.8" y2="844.6" stroke="#000000" stroke-width="2.6"/>
<text transform="translate(571.37,853.80) scale(0.9028,1)" font-family='"Liberation Sans", sans-serif' font-weight="bold" font-size="23.0" fill="#000">0 s</text>
<line x1="501.6" y1="879.7" x2="564.8" y2="879.7" stroke="#da1616" stroke-width="2.6"/>
<text transform="translate(570.79,888.90) scale(0.9452,1)" font-family='"Liberation Sans", sans-serif' font-weight="bold" font-size="23.0" fill="#000">10 s</text>
<line x1="501.6" y1="914.4" x2="564.8" y2="914.4" stroke="#26e626" stroke-width="2.6"/>
<text transform="translate(570.75,923.60) scale(0.9676,1)" font-family='"Liberation Sans", sans-serif' font-weight="bold" font-size="23.0" fill="#000">100 s</text>
<line x1="501.6" y1="948.8" x2="564.8" y2="948.8" stroke="#0e0ed4" stroke-width="2.6"/>
<text transform="translate(571.65,958.00) scale(0.9517,1)" font-family='"Liberation Sans", sans-serif' font-weight="bold" font-size="23.0" fill="#000">300 s</text>
<g transform="translate(18.8,1132.8) rotate(-90)"><text transform="translate(-0.34,0.00) scale(0.8958,1)" font-family='"Liberation Sans", sans-serif' font-weight="bold" font-size="23.8" fill="#000">Solid</text><text transform="translate(57.49,0.00) scale(0.9591,1)" font-family='"Liberation Sans", sans-serif' font-weight="bold" font-size="23.8" fill="#000">concentration</text><text transform="translate(214.58,0.00) scale(1.0000,1)" font-family='"Liberation Sans", sans-serif' font-weight="bold" font-size="23.8" fill="#000">(</text><text transform="translate(222.51,0.00) scale(0.8339,1)" font-family='"Liberation Sans", sans-serif' font-weight="bold" font-size="23.8" fill="#000">C</text><text transform="translate(236.44,10.80) scale(0.8980,1)" font-family='"Liberation Sans", sans-serif' font-weight="bold" font-size="14.5" fill="#000">s,r</text><text transform="translate(252.41,0.00) scale(1.0000,1)" font-family='"Liberation Sans", sans-serif' font-weight="bold" font-size="23.8" fill="#000">-</text><text transform="translate(260.32,0.00) scale(0.8211,1)" font-family='"Liberation Sans", sans-serif' font-weight="bold" font-size="23.8" fill="#000">C</text><text transform="translate(274.46,10.80) scale(0.8698,1)" font-family='"Liberation Sans", sans-serif' font-weight="bold" font-size="14.5" fill="#000">s,0%</text><text transform="translate(304.05,0.00) scale(1.0000,1)" font-family='"Liberation Sans", sans-serif' font-weight="bold" font-size="23.8" fill="#000">)</text><line x1="313.6" y1="2.6" x2="321.0" y2="-17.4" stroke="#000" stroke-width="2.6"/><text transform="translate(322.68,0.00) scale(1.0000,1)" font-family='"Liberation Sans", sans-serif' font-weight="bold" font-size="23.8" fill="#000">(</text><text transform="translate(331.32,0.00) scale(0.8147,1)" font-family='"Liberation Sans", sans-serif' font-weight="bold" font-size="23.8" fill="#000">C</text><text transform="translate(345.04,10.80) scale(0.9161,1)" font-family='"Liberation Sans", sans-serif' font-weight="bold" font-size="14.5" fill="#000">s,100%</text><text transform="translate(390.21,0.00) scale(1.0000,1)" font-family='"Liberation Sans", sans-serif' font-weight="bold" font-size="23.8" fill="#000">-</text><text transform="translate(398.76,0.00) scale(0.7762,1)" font-family='"Liberation Sans", sans-serif' font-weight="bold" font-size="23.8" fill="#000">C</text><text transform="translate(411.64,10.80) scale(0.9009,1)" font-family='"Liberation Sans", sans-serif' font-weight="bold" font-size="14.5" fill="#000">s,0%</text><text transform="translate(442.55,0.00) scale(1.0000,1)" font-family='"Liberation Sans", sans-serif' font-weight="bold" font-size="23.8" fill="#000">)</text></g>
</svg>
</body></html>
